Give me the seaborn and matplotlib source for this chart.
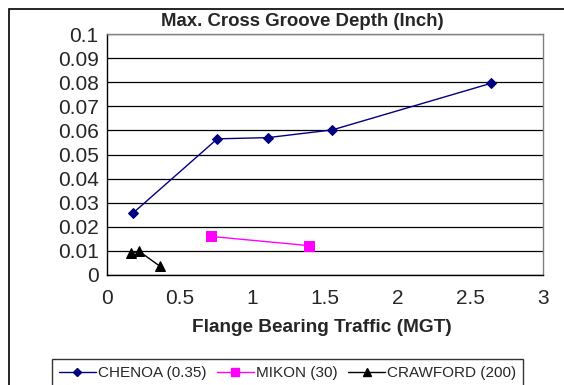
import matplotlib
matplotlib.use("Agg")
import matplotlib.pyplot as plt
import seaborn as sns
import pandas as pd
from matplotlib.patches import Rectangle
from matplotlib.lines import Line2D

sns.set_style("white")
plt.rcParams['font.family'] = ['Liberation Sans', 'DejaVu Sans']

chenoa_x = [0.177, 0.759, 1.106, 1.55, 2.64]
chenoa_y = [0.0256, 0.0565, 0.0570, 0.0602, 0.0795]
mikon_x = [0.716, 1.387]
mikon_y = [0.0160, 0.0122]
crawford_x = [0.163, 0.222, 0.365]
crawford_y = [0.0092, 0.0098, 0.0036]

series_names = ["CHENOA (0.35)", "MIKON (30)", "CRAWFORD (200)"]
title = "Max. Cross Groove Depth (Inch)"
xlabel = "Flange Bearing Traffic (MGT)"
x_ticks = [0, 0.5, 1, 1.5, 2, 2.5, 3]
x_ticklabels = ["0", "0.5", "1", "1.5", "2", "2.5", "3"]
y_ticks = [0, 0.01, 0.02, 0.03, 0.04, 0.05, 0.06, 0.07, 0.08, 0.09, 0.1]
y_ticklabels = ["0", "0.01", "0.02", "0.03", "0.04", "0.05", "0.06", "0.07", "0.08", "0.09", "0.1"]

W, H = 564, 385
fig = plt.figure(figsize=(W / 100, H / 100), dpi=100)
ax = fig.add_axes([107 / W, 1 - 275 / H, (543 - 107) / W, (275 - 34) / H])

styles = [
    dict(color="#000080", marker="D", markersize=5),
    dict(color="#FF00FF", marker="s", markersize=7),
    dict(color="#000000", marker="^", markersize=7),
]
data = [(chenoa_x, chenoa_y), (mikon_x, mikon_y), (crawford_x, crawford_y)]
for (xs, ys), st, name in zip(data, styles, series_names):
    df = pd.DataFrame({"x": xs, "y": ys})
    sns.lineplot(data=df, x="x", y="y", ax=ax, sort=False, estimator=None,
                 color=st["color"], marker=st["marker"], markersize=st["markersize"],
                 markeredgecolor=st["color"], linewidth=1, legend=False)

ax.set_xlim(0, 3)
ax.set_ylim(0, 0.1)
ax.set_xticks(x_ticks)
ax.set_xticklabels(x_ticklabels, fontsize=15)
ax.set_yticks(y_ticks)
ax.set_yticklabels(y_ticklabels, fontsize=15)
ax.tick_params(axis="both", direction="out", length=4, width=1, color="black")
ax.tick_params(axis="y", pad=2)
ax.tick_params(axis="x", pad=6)
ax.yaxis.grid(True, color="#000000", linewidth=0.9)
ax.xaxis.grid(False)
ax.set_axisbelow(True)
for s in ["left", "bottom"]:
    ax.spines[s].set_color("black")
    ax.spines[s].set_linewidth(1)
for s in ["top", "right"]:
    ax.spines[s].set_color("#808080")
    ax.spines[s].set_linewidth(1)
ax.set_xlabel("")
ax.set_ylabel("")

fig.text(302 / W, 1 - 22 / H, title, fontsize=13.4, fontweight="bold",
         ha="center", va="center")
fig.text(322 / W, 1 - 327 / H, xlabel, fontsize=13.7, fontweight="bold",
         ha="center", va="center")

# outer chart border (cropped at right and bottom)
fig.patches.append(Rectangle((9 / W, -0.2), 1.5, 1.2 - 9 / H, transform=fig.transFigure,
                             fill=False, edgecolor="black", linewidth=1.2))

handles = [Line2D([0], [0], color=st["color"], marker=st["marker"],
                  markersize=st["markersize"] - 1, linewidth=1,
                  markeredgecolor=st["color"]) for st in styles]
leg = fig.legend(handles, series_names, loc="upper left", ncol=3,
                 bbox_to_anchor=(52 / W, 1 - 359 / H),
                 frameon=True, fancybox=False, fontsize=11,
                 handlelength=2.4, handletextpad=0.15, columnspacing=0.7,
                 borderpad=0.45, borderaxespad=0)
leg.get_frame().set_edgecolor("black")
leg.get_frame().set_linewidth(1)

fig.savefig("out.png", dpi=100)
